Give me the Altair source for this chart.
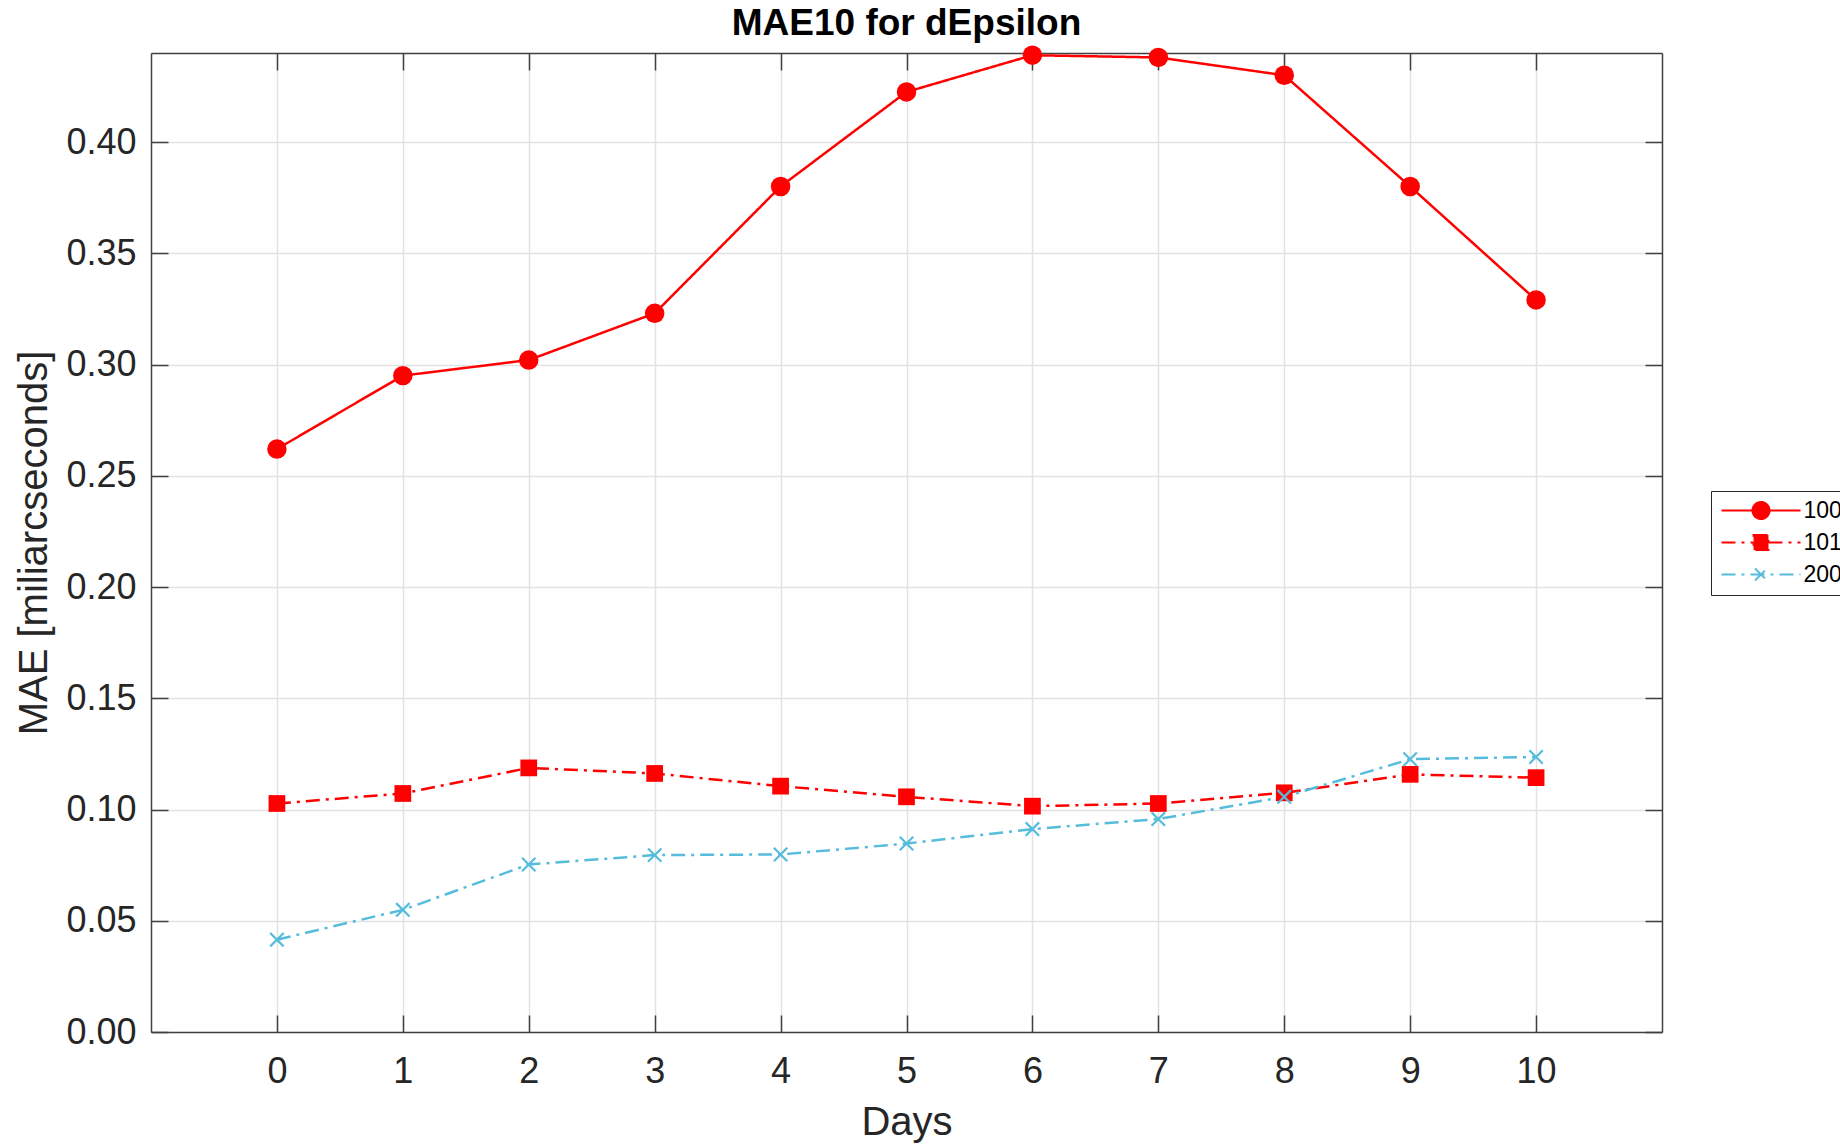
import altair as alt
import pandas as pd

days = list(range(11))
series_names = ["100", "101", "200"]
mae_100 = [0.262, 0.295, 0.302, 0.323, 0.380, 0.4225, 0.439, 0.438, 0.430, 0.380, 0.329]
mae_101 = [0.1027, 0.1072, 0.1187, 0.1162, 0.1105, 0.1057, 0.1015, 0.1027, 0.1075, 0.1158, 0.1143]
mae_200 = [0.0415, 0.0549, 0.0753, 0.0795, 0.0798, 0.0847, 0.0912, 0.0957, 0.1057, 0.1226, 0.1236]
y_ticks = [0.00, 0.05, 0.10, 0.15, 0.20, 0.25, 0.30, 0.35, 0.40]
x_ticks = days

rows = []
for name, vals in zip(series_names, [mae_100, mae_101, mae_200]):
    for d, v in zip(days, vals):
        rows.append({"series": name, "day": d, "value": v})
df = pd.DataFrame(rows)

FONT = "Liberation Sans"
AX = "#404040"
TXT = "#262626"
GRID = "#e2e2e2"
W, H = 1511, 979

colors = ["#FF0000", "#FF0000", "#55BCDC"]
dash_dot = [14, 6, 3, 6]
dashes = [[1, 0], dash_dot, dash_dot]

xscale = alt.Scale(domain=[-1, 11], nice=False, zero=False)
yscale = alt.Scale(domain=[0, 0.44], nice=False, zero=False)

x_axis = alt.Axis(values=x_ticks, title="Days", labelFontSize=36, titleFontSize=40,
                  labelFont=FONT, titleFont=FONT, labelColor=TXT, titleColor=TXT,
                  titleFontWeight="normal", grid=True, gridColor=GRID, gridWidth=1.5,
                  tickSize=alt.ExprRef("-17"), tickColor=AX, tickWidth=1.5,
                  domain=True, domainColor=AX, domainWidth=1.5,
                  labelPadding=39, labelFlush=False,
                  titleX=W / 2, titleY=102, titleBaseline="alphabetic", titleAlign="center")
y_axis = alt.Axis(values=y_ticks, format=".2f", title="MAE [miliarcseconds]",
                  labelFontSize=36, titleFontSize=40,
                  labelFont=FONT, titleFont=FONT, labelColor=TXT, titleColor=TXT,
                  titleFontWeight="normal", grid=True, gridColor=GRID, gridWidth=1.5,
                  tickSize=alt.ExprRef("-17"), tickColor=AX, tickWidth=1.5,
                  domain=True, domainColor=AX, domainWidth=1.5,
                  labelPadding=32, labelFlush=False,
                  titleX=-105, titleY=H / 2, titleBaseline="alphabetic", titleAlign="center",
                  titleAngle=270)

X = alt.X("day:Q", scale=xscale, axis=x_axis)
Y = alt.Y("value:Q", scale=yscale, axis=y_axis)

base = alt.Chart(df)
layers = []
for name, col, dsh in zip(series_names, colors, dashes):
    layers.append(
        base.transform_filter(alt.datum.series == name)
        .mark_line(color=col, strokeWidth=2.5, strokeDash=dsh)
        .encode(x=X, y=Y)
    )

layers.append(
    base.transform_filter(alt.datum.series == "100")
    .mark_point(shape="circle", filled=True, color=colors[0], size=380, opacity=1)
    .encode(x=X, y=Y)
)
layers.append(
    base.transform_filter(alt.datum.series == "101")
    .mark_point(shape="square", filled=True, color=colors[1], size=280, opacity=1)
    .encode(x=X, y=Y)
)
layers.append(
    base.transform_filter(alt.datum.series == "200")
    .mark_point(shape="M-1,-1L1,1M-1,1L1,-1", filled=False, color=colors[2],
                size=180, strokeWidth=2.2, opacity=1)
    .encode(x=X, y=Y)
)

legend_paths = [
    "M-4.39,0H4.39M0.944,0A0.944,0.944,0,1,1,-0.944,0A0.944,0.944,0,1,1,0.944,0Z",
    "M-4.39,0H-0.83M0.83,0H4.39M-0.83,-0.83H0.83V0.83H-0.83Z",
    "M-4.39,0H4.39M-0.667,-0.667L0.667,0.667M-0.667,0.667L0.667,-0.667",
]
leg = alt.Legend(title=None, orient="none", legendX=1560, legendY=438,
                 symbolSize=324, symbolOffset=30.5, labelOffset=31,
                 labelFontSize=23, labelFont=FONT, labelColor="black",
                 strokeColor=TXT, fillColor="white", padding=8, rowPadding=8,
                 symbolStrokeWidth=2, labelLimit=400)
legend_layer = (
    base.transform_filter("false")
    .mark_point(filled=True, opacity=1, strokeWidth=2)
    .encode(
        shape=alt.Shape("series:N", scale=alt.Scale(domain=series_names, range=legend_paths), legend=leg),
        color=alt.Color("series:N", scale=alt.Scale(domain=series_names, range=colors), legend=leg),
        stroke=alt.Stroke("series:N", scale=alt.Scale(domain=series_names, range=colors), legend=leg),
        strokeDash=alt.StrokeDash("series:N", scale=alt.Scale(domain=series_names, range=dashes), legend=leg),
    )
)
layers.append(legend_layer)

main = alt.layer(*layers)

box_x = alt.Axis(orient="top", values=x_ticks, labels=False, title="", grid=False,
                 tickSize=alt.ExprRef("-17"), tickColor=AX, tickWidth=1.5,
                 domain=True, domainColor=AX, domainWidth=1.5)
box_y = alt.Axis(orient="right", values=y_ticks, labels=False, title="", grid=False,
                 tickSize=alt.ExprRef("-17"), tickColor=AX, tickWidth=1.5,
                 domain=True, domainColor=AX, domainWidth=1.5)
box = base.mark_point(opacity=0).encode(
    x=alt.X("day:Q", scale=xscale, axis=box_x),
    y=alt.Y("value:Q", scale=yscale, axis=box_y),
)

chart = (
    alt.layer(main, box)
    .resolve_scale(x="independent", y="independent")
    .properties(
        width=W, height=H,
        padding={"left": 151, "top": 53, "right": 178, "bottom": 114},
        autosize=alt.AutoSizeParams(type="none"),
        title=alt.TitleParams("MAE10 for dEpsilon", fontSize=37, fontWeight="bold",
                              font=FONT, color="black", anchor="middle",
                              baseline="alphabetic", offset=15.5, dy=42),
    )
    .configure_view(stroke="transparent")
    .configure(background="white")
)

chart.save("out.html", embed_options={"renderer": "svg", "actions": False})
